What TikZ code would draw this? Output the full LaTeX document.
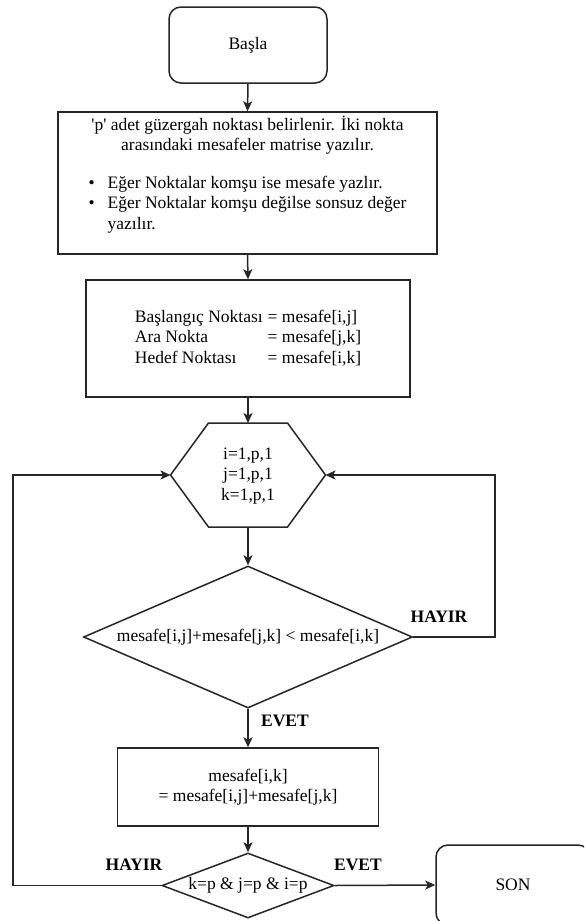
\documentclass[tikz,border=0pt]{standalone}
\usepackage{fontspec}
\setmainfont{Liberation Serif}[Ligatures=TeXOff]
\usetikzlibrary{shapes.geometric,arrows.meta}
\begin{document}
\begin{tikzpicture}[x=1pt,y=-1pt,
  every node/.style={font=\fontsize{17.5}{20.5}\selectfont, text=black},
  line/.style={draw=black!85, line width=1.5pt},
  arr/.style={line, -{Stealth[length=10pt,width=9pt,inset=2.5pt]}},
  term/.style={line, rounded corners=12pt, inner sep=0pt},
  proc/.style={line, inner sep=0pt},
  dec/.style={line, diamond, inner sep=0pt},
  lbl/.style={font=\fontsize{17.5}{20.5}\selectfont\bfseries},
]
\clip (0,0) rectangle (584,921);
\fill[white] (0,0) rectangle (584,921);

% terminals and process boxes
\node[term, minimum width=158pt, minimum height=76pt] (start) at (248,45) {Başla};

\node[proc, minimum width=379pt, minimum height=142pt] (init) at (247.5,183)
  {\begin{minipage}[c][134pt][t]{370pt}
     \centering 'p' adet güzergah noktası belirlenir. İki nokta\\
     arasındaki mesafeler matrise yazılır.\par
     \vspace{18pt}
     \raggedright\hspace*{26pt}%
     \begin{tabular}{@{}l@{\hspace{13pt}}l@{}}
       \textbullet & Eğer Noktalar komşu ise mesafe yazlır.\\
       \textbullet & Eğer Noktalar komşu değilse sonsuz değer\\
                   & yazılır.
     \end{tabular}
   \end{minipage}};

\node[proc, minimum width=324pt, minimum height=117pt] (vars) at (248,338.5)
  {\begin{tabular}{@{}l@{\hspace{5pt}}l@{}}
     Başlangıç Noktası & = mesafe[i,j]\\
     Ara Nokta         & = mesafe[j,k]\\
     Hedef Noktası     & = mesafe[i,k]
   \end{tabular}};

% loop header (hexagon)
\coordinate (hexT)  at (248,423);
\coordinate (hexB)  at (248,527);
\coordinate (hexL)  at (170.5,475);
\coordinate (hexR)  at (325.5,475);
\draw[line] (208.5,423) -- (287.5,423) -- (hexR) -- (287.5,527)
  -- (208.5,527) -- (hexL) -- cycle;
\node[align=center] (hex) at (248,476) {i=1,p,1\\ j=1,p,1\\ k=1,p,1};

% comparison
\node[dec, minimum width=329pt, minimum height=142pt, aspect=2.317] (cond) at (248,637)
  {mesafe[i,j]+mesafe[j,k] < mesafe[i,k]};

\node[proc, minimum width=261pt, minimum height=78pt, align=center] (upd) at (248,787)
  {mesafe[i,k]\\ = mesafe[i,j]+mesafe[j,k]};

\node[dec, minimum width=172pt, minimum height=65pt, aspect=2.65] (chk) at (248,885.5)
  {k=p \& j=p \& i=p};

\node[term, minimum width=154pt, minimum height=80pt] (son) at (513,885) {SON};

% branch labels
\node[lbl] (noA)  at (439,617) {HAYIR};
\node[lbl] (yesA) at (285,721) {EVET};
\node[lbl] (noB)  at (134,865) {HAYIR};
\node[lbl] (yesB) at (358,865) {EVET};

% loop corners
\coordinate (rturn) at (495,475);
\coordinate (lturn) at (13,475);

% connectors
\draw[arr] (start.south) -- (init.north);
\draw[arr] (init.south) -- (vars.north);
\draw[arr] (vars.south) -- (hexT);
\draw[arr] (hexB) -- (cond.north);
\draw[arr] (cond.east) -| (rturn) -- (hexR);
\draw[arr] (cond.south) -- (upd.north);
\draw[arr] (upd.south) -- (chk.north);
\draw[arr] (chk.west) -| (lturn) -- (hexL);
\draw[arr] (chk.east) -- (son.west);
\end{tikzpicture}
\end{document}
